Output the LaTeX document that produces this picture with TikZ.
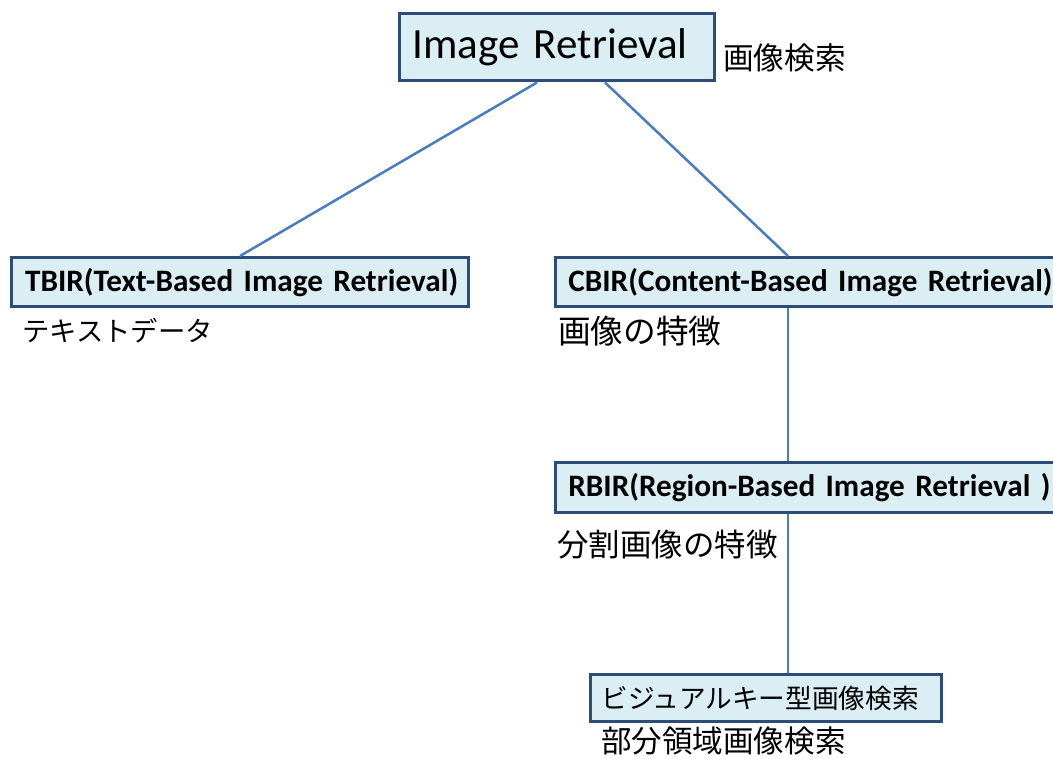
\documentclass[tikz,border=0pt]{standalone}
\usepackage{fontspec}
\setmainfont{Carlito}
\newfontfamily\cjk{Noto Sans CJK JP}
\usetikzlibrary{calc}
\definecolor{boxfill}{HTML}{DBEEF4}
\definecolor{boxdraw}{HTML}{2C4D75}
\definecolor{linecol}{HTML}{4A7EBB}
\tikzset{
  box/.style={draw=boxdraw, fill=boxfill, line width=2.6pt, anchor=north west,
    inner xsep=0pt, inner ysep=0pt, align=left},
  conn/.style={draw=linecol, line width=1.9pt},
  lbl/.style={anchor=west, inner sep=0pt, font=\cjk}
}
\begin{document}
\begin{tikzpicture}[x=0.75pt, y=-0.75pt]
\useasboundingbox (0,0) rectangle (1053,758);
\clip (0,0) rectangle (1053,758);
\fill[white] (0,0) rectangle (1053,758);
% boxes
\node[box, minimum width=315*0.75pt, minimum height=67*0.75pt, text width=315*0.75pt, font=\fontsize{32.3}{36}\selectfont] (ir) at (398,12) {\hspace*{9.5pt}Image Retrieval};
\node[box, minimum width=457*0.75pt, minimum height=49*0.75pt, text width=457*0.75pt, font=\fontsize{23.4}{26}\selectfont\bfseries] (tbir) at (10,256) {\hspace*{10pt}TBIR(Text-Based Image Retrieval)};
\node[box, minimum width=520*0.75pt, minimum height=49*0.75pt, text width=520*0.75pt, font=\fontsize{23.4}{26}\selectfont\bfseries] (cbir) at (554,256) {\hspace*{9.5pt}CBIR(Content-Based Image Retrieval)};
\node[box, minimum width=520*0.75pt, minimum height=50*0.75pt, text width=520*0.75pt, font=\fontsize{23.4}{26}\selectfont\bfseries] (rbir) at (554,461) {\hspace*{9.5pt}RBIR(Region-Based Image Retrieval )};
\node[box, minimum width=351*0.75pt, minimum height=47*0.75pt, text width=351*0.75pt, font=\cjk\fontsize{20}{24}\selectfont] (vk) at (589,673) {\hspace*{8pt}ビジュアルキー型画像検索};
% labels
\node[lbl, font=\cjk\fontsize{23}{26}\selectfont] (l0) at (723,58) {画像検索};
\node[lbl, font=\cjk\fontsize{20.5}{24}\selectfont] (l1) at (22,331) {テキストデータ};
\node[lbl, font=\cjk\fontsize{24.5}{28}\selectfont] (l2) at (558,331) {画像の特徴};
\node[lbl, font=\cjk\fontsize{23.6}{28}\selectfont] (l3) at (557,545) {分割画像の特徴};
\node[lbl, font=\cjk\fontsize{22.9}{26}\selectfont] (l4) at (601,741) {部分領域画像検索};
% connectors
\coordinate (xa) at (537,0);
\coordinate (xb) at (240,0);
\coordinate (xc) at (605,0);
\coordinate (xd) at (788,0);
\draw[conn] (ir.south -| xa) -- (tbir.north -| xb);
\draw[conn] (ir.south -| xc) -- (cbir.north -| xd);
\draw[conn] (cbir.south -| xd) -- (rbir.north -| xd);
\draw[conn] (rbir.south -| xd) -- (vk.north -| xd);
\end{tikzpicture}
\end{document}
